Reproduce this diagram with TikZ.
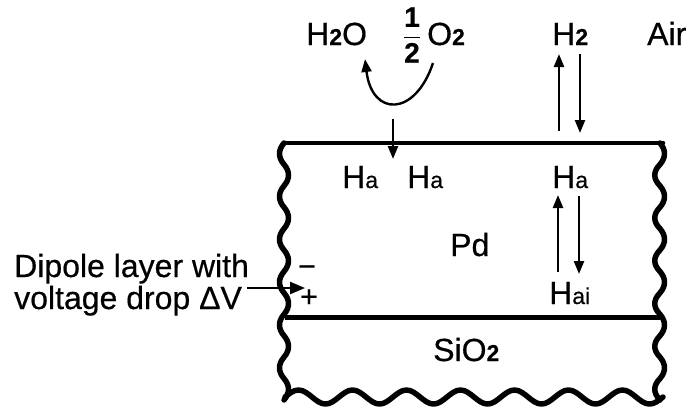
\documentclass[tikz,border=0pt]{standalone}
\usepackage{fontspec}
\setmainfont[FakeBold=0.5]{Liberation Sans}
\usetikzlibrary{arrows.meta}
\newcommand\sbs[1]{{\fontsize{23}{23}\selectfont\bfseries #1}}
\newcommand\sba[1]{{\fontsize{23}{23}\selectfont #1}}
\begin{document}
\begin{tikzpicture}[x=1pt,y=-1pt,
  lab/.style={font=\fontsize{32}{33}\selectfont, inner sep=0pt, anchor=base west},
  edge/.style={line width=5.5pt, line cap=round, line join=round},
  flow/.style={line width=2.4pt, -{Triangle[length=13pt,width=10pt]}},
  dip/.style={line width=2.4pt, -{Triangle[length=15pt,width=12pt]}}]
\useasboundingbox (0,0) rectangle (695,410);
% layers
\draw[line width=4.6pt, line cap=round] (284,143) -- (663,143);
\draw[edge] (284,143) \foreach \i in {0,...,5} {
  .. controls (278,{143+\i*42.83+7.1}) and (278,{143+\i*42.83+14.3}) .. (284,{143+\i*42.83+21.4})
  .. controls (290,{143+\i*42.83+28.5}) and (290,{143+\i*42.83+35.7}) .. (284,{143+(\i+1)*42.83}) };
\draw[edge] (660,143) \foreach \i in {0,...,5} {
  .. controls (666,{143+\i*42.83+7.1}) and (666,{143+\i*42.83+14.3}) .. (660,{143+\i*42.83+21.4})
  .. controls (653,{143+\i*42.83+28.5}) and (653,{143+\i*42.83+35.7}) .. (660,{143+(\i+1)*42.83}) };
\draw[edge] (285,397) \foreach \i in {1,...,7} { sin ++(13.5,-7) cos ++(13.5,7) sin ++(13.5,7) cos ++(13.5,-7) };
\draw[line width=5pt] (285,317) -- (660,317);
% labels
\node[lab] (h2o) at (306,45) {H\sbs{2}O};
\node[inner sep=0pt] (half) at (412,35) {\fontsize{28}{28}\selectfont$\displaystyle{\hbox{\bfseries 1}\above 1.6pt \hbox{\bfseries 2}}$};
\node[lab] (o2) at (427,45) {O\sbs{2}};
\node[lab] (h2) at (552,45) {H\sbs{2}};
\node[lab] (air) at (647,45) {Air};
\node[lab] (ha1) at (342,188) {H\sba{a}};
\node[lab] (ha2) at (407,188) {H\sba{a}};
\node[lab] (ha3) at (552,188) {H\sba{a}};
\node[lab] (pd) at (450,256) {Pd};
\node[lab] (hai) at (549,304) {H\sba{ai}};
\node[lab] (sio2) at (433,361) {SiO\sbs{2}};
\node[lab] (dip1) at (14,277) {Dipole layer with};
\node[lab] (dip2) at (14,309) {voltage drop ΔV};
\node[inner sep=0pt, font=\fontsize{30}{30}\selectfont] (minus) at (307,271) {−};
\node[inner sep=0pt, font=\fontsize{30}{30}\selectfont] (plus) at (309,298) {+};
% coordinates
\coordinate (c1a) at (433,63);
\coordinate (c1b) at (365,59);
\coordinate (d1a) at (393,119);
\coordinate (d1b) at (393,159);
\coordinate (u1a) at (559,131);
\coordinate (u1b) at (559,54);
\coordinate (w1a) at (580,54);
\coordinate (w1b) at (580,133);
\coordinate (u2a) at (558,272);
\coordinate (u2b) at (558,195);
\coordinate (w2a) at (579,196);
\coordinate (w2b) at (579,274);
\coordinate (pa) at (247,288);
\coordinate (pb) at (305,288);
% arrows
\draw[flow] (c1a) .. controls (415,117) and (372,117) .. (c1b);
\draw[flow] (d1a) -- (d1b);
\draw[flow] (u1a) -- (u1b);
\draw[flow] (w1a) -- (w1b);
\draw[flow] (u2a) -- (u2b);
\draw[flow] (w2a) -- (w2b);
\draw[dip] (pa) -- (pb);
\end{tikzpicture}
\end{document}
